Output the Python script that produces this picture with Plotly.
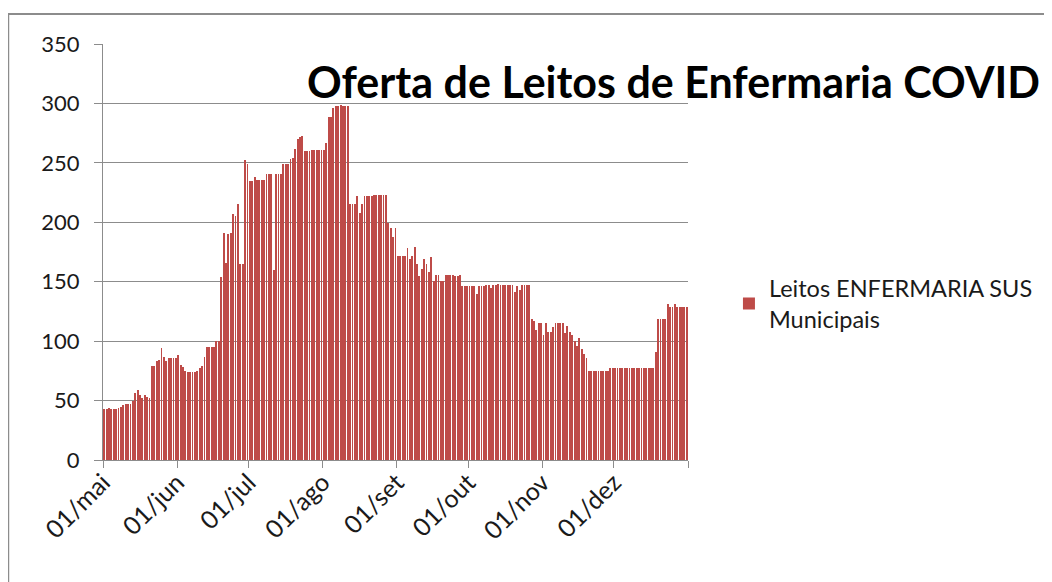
import pandas as pd
import plotly.graph_objects as go

# leitos de enfermaria SUS municipais, um valor por dia
mai = [43, 43, 44, 43, 43, 43, 44, 45, 46, 47, 47, 47, 50, 56, 59, 55, 52, 55, 53, 52,
       79, 79, 83, 84, 94, 87, 83, 86, 86, 86, 86]
jun = [88, 80, 78, 75, 74, 74, 74, 74, 75, 77, 79, 87, 95, 95, 95, 95, 100, 100, 154, 191,
       166, 190, 191, 207, 205, 215, 165, 165, 252, 249]
jul = [235, 235, 238, 236, 236, 236, 236, 241, 241, 241, 160, 241, 241, 241, 249, 249, 249, 253,
       254, 262, 270, 272, 273, 260, 260, 260, 261, 261, 261, 261, 261]
ago = [261, 267, 289, 289, 296, 298, 298, 299, 298, 298, 298, 215, 215, 215, 222, 208, 215, 222,
       222, 222, 222, 223, 223, 223, 223, 223, 223, 199, 195, 188, 195]
set_ = [172, 172, 172, 172, 178, 169, 172, 179, 165, 155, 161, 169, 165, 158, 171, 151, 156, 156,
        151, 151, 156, 156, 156, 156, 155, 155, 156, 146, 146, 146]
out = [146, 146, 146, 140, 146, 146, 146, 147, 147, 145, 147, 147, 148, 147, 147, 147, 147, 147,
       147, 141, 146, 143, 147, 147, 147, 147, 119, 117, 109, 115, 115]
nov = [105, 115, 108, 108, 112, 115, 115, 115, 115, 107, 113, 108, 105, 100, 96, 103, 93, 89,
       86, 75, 75, 75, 75, 75, 75, 75, 75, 75, 77, 77]
dez = [77, 77, 77, 77, 77, 77, 77, 77, 77, 77, 77, 77, 77, 77, 77, 77, 77, 91, 119, 119,
       119, 119, 131, 129, 129, 131, 129, 129, 129, 129, 129]

leitos = mai + jun + jul + ago + set_ + out + nov + dez
dias = pd.date_range("2020-05-01", periods=len(leitos), freq="D") + pd.Timedelta(hours=12)

tick_vals = ["2020-05-01", "2020-06-01", "2020-07-01", "2020-08-01", "2020-09-01",
             "2020-10-01", "2020-11-01", "2020-12-01", "2021-01-01"]
tick_text = ["01/mai", "01/jun", "01/jul", "01/ago", "01/set", "01/out", "01/nov", "01/dez", ""]

cinza = "#8c8c8c"
fonte = "Lato, Liberation Sans, sans-serif"

fig = go.Figure()
fig.add_trace(go.Bar(x=dias, y=leitos, width=0.36 * 86400000,
                     marker=dict(color="#BE4B48", line=dict(width=0)),
                     name="Leitos ENFERMARIA SUS<br>Municipais"))

# a pagina desloca a figura 8 px (margem do body)
fig.update_layout(
    width=1044, height=574,
    margin=dict(l=95, r=364, t=36, b=122),
    paper_bgcolor="white", plot_bgcolor="white",
    font=dict(family=fonte, size=22, color="#1a1a1a"),
    showlegend=True,
    legend=dict(x=1.07, y=0.375, xanchor="left", yanchor="middle",
                font=dict(size=23.5, color="#1a1a1a"), bgcolor="rgba(0,0,0,0)"),
    bargap=0,
)
fig.update_xaxes(type="date", range=["2020-05-01", "2021-01-01"],
                 tickvals=tick_vals, ticktext=tick_text, tickangle=-45,
                 showgrid=False, showline=True, linecolor=cinza, linewidth=1,
                 ticks="outside", ticklen=7, tickcolor=cinza, ticklabelstandoff=-10,
                 tickfont=dict(size=25))
fig.update_yaxes(range=[0, 350], dtick=50, showgrid=True, gridcolor=cinza, gridwidth=1,
                 showline=True, linecolor=cinza, linewidth=1, zeroline=False,
                 ticks="outside", ticklen=8, tickcolor=cinza, ticklabelstandoff=10,
                 tickfont=dict(size=22))

# borda da area do grafico
fig.add_shape(type="rect", xref="paper", yref="paper",
              x0=-0.162, x1=1.7, y0=-0.4, y1=1.072,
              line=dict(color=cinza, width=2), fillcolor="rgba(0,0,0,0)")

fig.add_annotation(text="<b>Oferta de Leitos de Enfermaria COVID</b>",
                   xref="paper", yref="paper", x=0.345, y=0.91,
                   xanchor="left", yanchor="middle", showarrow=False,
                   font=dict(family=fonte, size=43, color="black"))

fig.write_html("out.html")
